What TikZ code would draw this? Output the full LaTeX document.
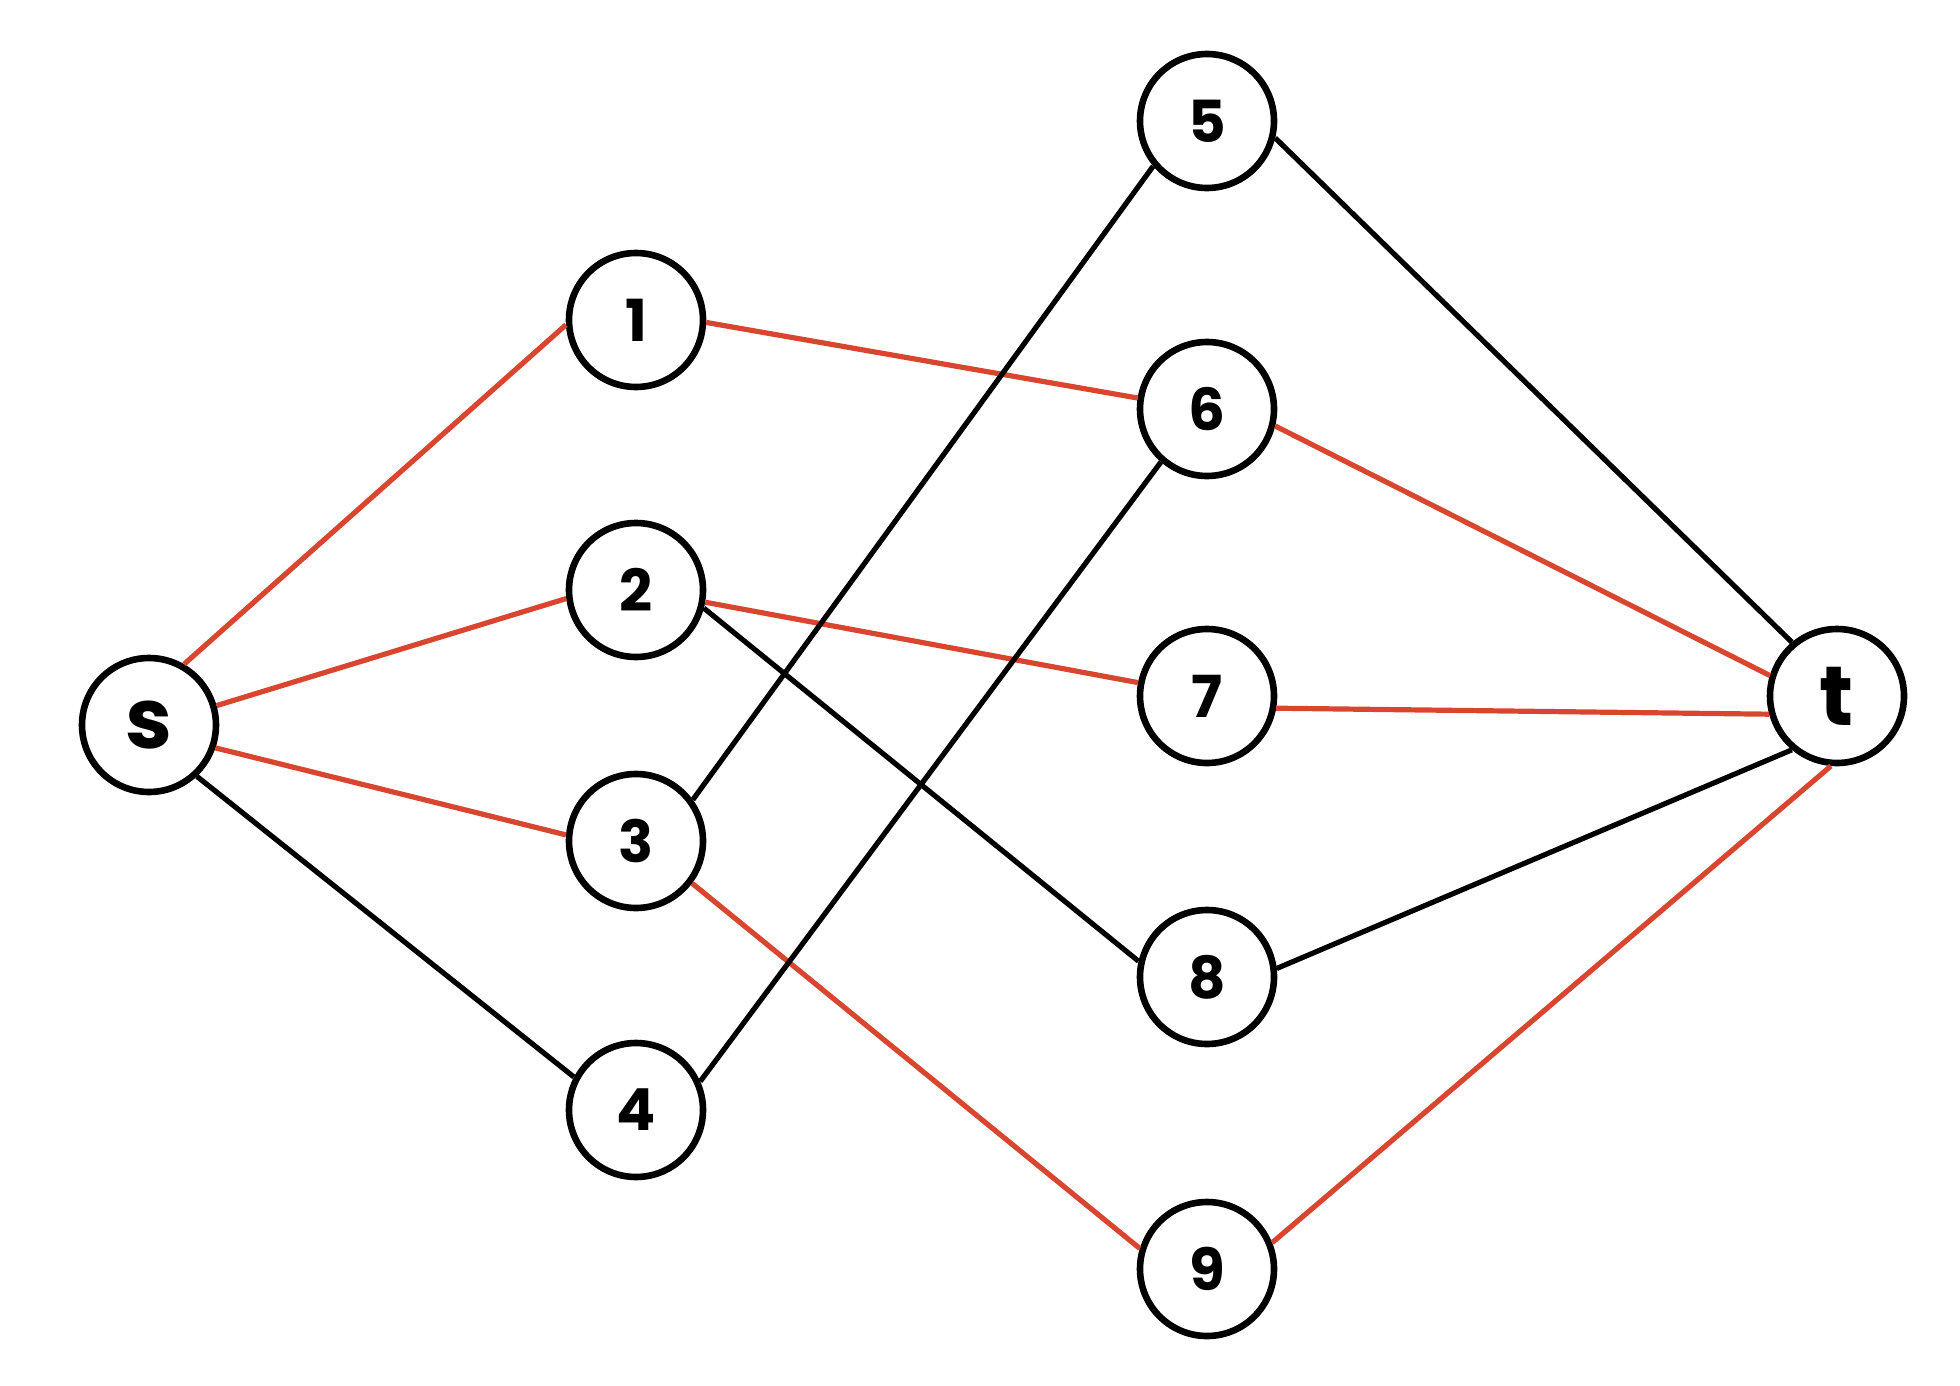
\documentclass[tikz,border=0pt]{standalone}
\usepackage{fontspec}
\setmainfont{Poppins}
\definecolor{edgered}{RGB}{217,70,48}
\begin{document}
\begin{tikzpicture}[x=0.5pt,y=-0.5pt,
  vertex/.style={circle,draw=black,line width=3.3pt,fill=white,minimum size=67pt,inner sep=0pt,font=\fontsize{29}{33}\selectfont\bfseries},
  endvertex/.style={vertex,font=\fontsize{42}{46}\selectfont\bfseries},
  redge/.style={draw=edgered,line width=2.6pt},
  bedge/.style={draw=black,line width=2.6pt}]
\useasboundingbox (0,0) rectangle (1960,1386);
\node[endvertex] (s) at (149,725) {s};
\node[vertex] (n1) at (636,320) {1};
\node[vertex] (n2) at (636,590) {2};
\node[vertex] (n3) at (636,841) {3};
\node[vertex] (n4) at (636,1110) {4};
\node[vertex] (n5) at (1207,121) {5};
\node[vertex] (n6) at (1207,409) {6};
\node[vertex] (n7) at (1207,696) {7};
\node[vertex] (n8) at (1207,977) {8};
\node[vertex] (n9) at (1207,1269) {9};
\node[endvertex] (t) at (1837,696) {t};
\draw[redge] (s.60) -- (n1.184);
\draw[redge] (s.16) -- (n2.187);
\draw[redge] (s.-19) -- (n3.175);
\draw[bedge] (s.-47) -- (n4.152);
\draw[redge] (n1.-2) -- (n6.171);
\draw[redge] (n2.-10) -- (n7.169);
\draw[bedge] (n2.-15) -- (n8.167);
\draw[bedge] (n3.36) -- (n5.220);
\draw[redge] (n3.-37) -- (n9.163);
\draw[bedge] (n4.24) -- (n6.229);
\draw[bedge] (n5.-14) -- (t.130);
\draw[redge] (n6.-14) -- (t.163);
\draw[redge] (n7.-10) -- (t.195);
\draw[bedge] (n8.7) -- (t.230);
\draw[redge] (n9.22) -- (t.265);
\end{tikzpicture}
\end{document}
